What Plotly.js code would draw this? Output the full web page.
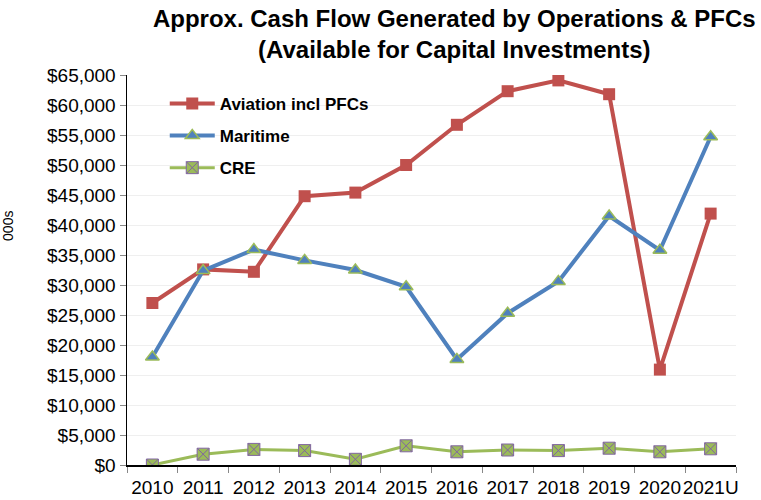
<!DOCTYPE html>
<html>
<head>
<meta charset="utf-8">
<script src="https://cdn.plot.ly/plotly-3.0.1.min.js"></script>
<style>html,body{margin:0;padding:0;background:#fff;}#chart{width:761px;height:500px;}</style>
</head>
<body>
<div id="chart"></div>
<script>
const years = ["2010","2011","2012","2013","2014","2015","2016","2017","2018","2019","2020","2021U"];
const aviation = [27000, 32600, 32200, 44800, 45400, 50000, 56700, 62300, 64100, 61800, 15900, 41900];
const maritime = [18000, 32400, 35900, 34100, 32500, 29700, 17600, 25300, 30600, 41500, 35800, 54700];
const cre = [0, 1800, 2600, 2400, 950, 3200, 2200, 2500, 2400, 2800, 2200, 2700];
const yTickVals = [0,5000,10000,15000,20000,25000,30000,35000,40000,45000,50000,55000,60000,65000];
const yTickText = yTickVals.map(v => "$" + v.toLocaleString("en-US"));
const yTitle = "000s";

const traces = [
  {x: years, y: aviation, name: "Aviation incl PFCs", type: "scatter", mode: "lines+markers",
   legendgroup: "a",
   line: {color: "#C0504D", width: 4}, marker: {symbol: "square", size: 12, color: "#C0504D"}},
  {x: years, y: maritime, name: "Maritime", type: "scatter", mode: "lines+markers",
   legendgroup: "m",
   line: {color: "#4F81BD", width: 4}, marker: {symbol: "triangle-up", size: 12, color: "#4F81BD", line: {color: "#9BBB59", width: 1.5}}},
  {x: years, y: cre, name: "CRE", type: "scatter", mode: "lines+markers",
   legendgroup: "c",
   line: {color: "#9BBB59", width: 3}, marker: {symbol: "square-x", size: 12, color: "#9BBB59", line: {color: "#8064A2", width: 1}}}
];

const layout = {
  width: 761, height: 500,
  paper_bgcolor: "#fff", plot_bgcolor: "#fff",
  margin: {l: 127, r: 25, t: 75, b: 35},
  font: {family: "Arial, 'Liberation Sans', sans-serif", color: "#000"},
  title: {text: "<b>Approx. Cash Flow Generated by Operations & PFCs<br>(Available for Capital Investments)</b>",
          font: {size: 24, color: "#000"}, x: 0.597, xanchor: "center", xref: "container",
          y: 0.947, yanchor: "middle", yref: "container"},
  xaxis: {type: "category", range: [-0.5, 11.5], tickson: "boundaries", ticks: "outside", ticklen: 6,
          tickcolor: "#888", showline: true, linecolor: "#000", linewidth: 1.5, showgrid: false,
          tickangle: 0, tickfont: {size: 19}, ticklabelstandoff: 5, zeroline: false, fixedrange: true},
  yaxis: {range: [0, 65000], tickvals: yTickVals, ticktext: yTickText, ticks: "outside", ticklen: 6,
          tickcolor: "#888", showline: true, linecolor: "#000", linewidth: 1.5, showgrid: true,
          gridcolor: "#EFEFEF", gridwidth: 1, zeroline: false, tickfont: {size: 19}},
  annotations: [{text: yTitle, textangle: -90, xref: "paper", yref: "paper",
                 x: -0.1954, y: 0.613, xanchor: "center", yanchor: "middle", showarrow: false,
                 font: {size: 14, color: "#000"}}],
  legend: {x: 0.062, y: 0.972, xanchor: "left", yanchor: "top", bgcolor: "rgba(0,0,0,0)",
           font: {size: 17, family: "Arial, 'Liberation Sans', sans-serif", weight: "bold"},
           itemwidth: 45, traceorder: "grouped", tracegroupgap: 7},
  showlegend: true
};
Plotly.newPlot("chart", traces, layout, {displayModeBar: false, staticPlot: true});
</script>
</body>
</html>
